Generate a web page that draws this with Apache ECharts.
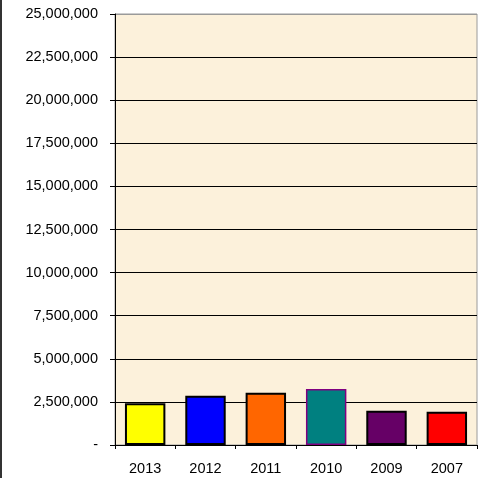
<!DOCTYPE html>
<html><head><meta charset="utf-8">
<script src="https://cdn.jsdelivr.net/npm/echarts@6/dist/echarts.min.js"></script>
<style>html,body{margin:0;padding:0;background:#fff}#c{width:480px;height:478px}</style>
</head><body><div id="c"></div>
<script>
const categories = ['2013','2012','2011','2010','2009','2007'];
const values = [2420000, 2860000, 3030000, 3250000, 1990000, 1930000];
const barColors = ['#FFFF00','#0000FF','#FF6600','#008080','#660066','#FF0000'];
const barBorders = ['#000000','#000000','#000000','#800080','#000000','#000000'];
const yTicks = [0, 2500000, 5000000, 7500000, 10000000, 12500000, 15000000, 17500000, 20000000, 22500000, 25000000];

const chart = echarts.init(document.getElementById('c'), null, {renderer:'canvas'});
const splitColors = yTicks.map((t,i)=> i===yTicks.length-1 ? '#9a9a9a' : '#000000');
const FONT = 'Liberation Sans, Arial, sans-serif';
chart.setOption({
  animation:false,
  graphic:[{type:'rect', left:0, top:0, shape:{width:2, height:478}, style:{fill:'#333333'}}],
  grid:{left:115, right:3, top:14, bottom:33, show:true, backgroundColor:'#FCF1DB', borderColor:'#9a9a9a', borderWidth:1},
  xAxis:{type:'category', data:categories,
    axisLine:{lineStyle:{color:'#000', width:1}},
    axisTick:{show:true, length:4, lineStyle:{color:'#000'}, alignWithLabel:false},
    axisLabel:{color:'#000', fontFamily:FONT, fontSize:14.5, margin:16}},
  yAxis:{type:'value', min:0, max:25000000, interval:2500000,
    axisLine:{show:true, lineStyle:{color:'#000', width:1}},
    axisTick:{show:true, length:5, lineStyle:{color:'#000'}},
    splitLine:{show:true, lineStyle:{color:splitColors, width:1}},
    axisLabel:{color:'#000', fontFamily:FONT, fontSize:14.5, margin:17,
      formatter:v=> v===0 ? '-' : v.toLocaleString('en-US')}},
  series:[{type:'bar', barCategoryGap:'33%',
    data: values.map((v,i)=>({value:v, itemStyle:{color:barColors[i], borderColor:barBorders[i], borderWidth: i===3?1.5:2}}))}]
});
</script></body></html>
